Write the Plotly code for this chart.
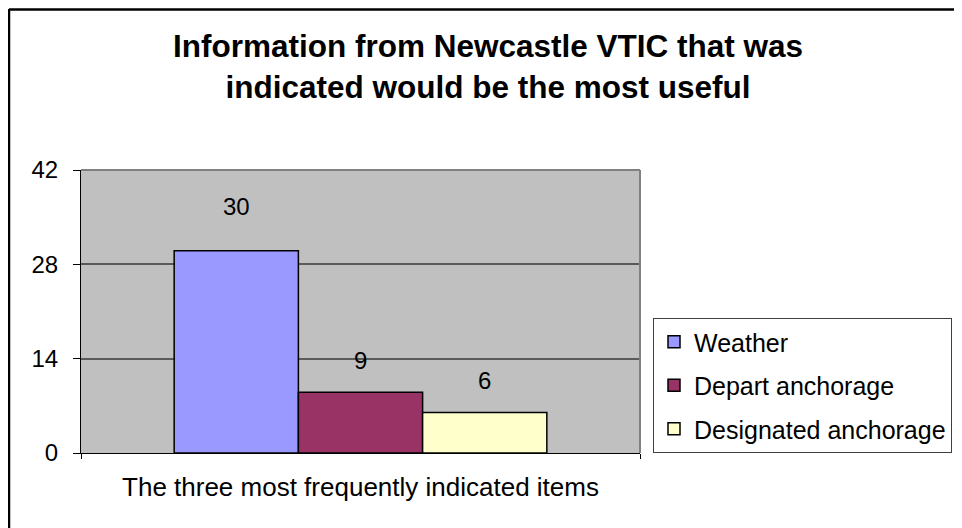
import plotly.graph_objects as go

# ---- data ----
category = ["The three most frequently indicated items"]
series_names = ["Weather", "Depart anchorage", "Designated anchorage"]
series_values = [30, 9, 6]
series_colors = ["#9999FF", "#993366", "#FFFFCC"]
y_ticks = [0, 14, 28, 42]
title_lines = ["Information from Newcastle VTIC that was",
               "indicated would be the most useful"]

FONT = "Liberation Sans, Arial, sans-serif"
OFF = 8                      # page body margin offset
W, H = 962 - OFF, 528 - OFF  # figure size (fills the window after offset)
# plot area in screen px: x 81..640, y 170..453
L = 81 - OFF
T = 170 - OFF
R = W - (640 - OFF)
B = H - (453 - OFF)
BARGAP = 1 / 3
label_shift = [44, 32, 32]

fig = go.Figure()
for name, val, col in zip(series_names, series_values, series_colors):
    fig.add_trace(go.Bar(
        x=category, y=[val], name=name,
        marker=dict(color=col, line=dict(color="black", width=1.5)),
        legendgroup=name,
        hoverinfo="skip",
    ))

# data labels above bars (positions derived from grouped bar layout)
n = len(series_values)
bw = (1 - BARGAP) / n
annotations = []
for i, val in enumerate(series_values):
    xc = -0.5 * (1 - BARGAP) + bw * (i + 0.5)
    annotations.append(dict(
        x=xc, y=val, xref="x", yref="y", text=str(val), showarrow=False,
        yanchor="middle", yshift=label_shift[i],
        font=dict(family=FONT, size=24, color="black"),
    ))

pw, ph = W - L - R, H - T - B
def sx(px):  # screen px -> paper x
    return (px - OFF - L) / pw
def sy(py):  # screen px -> paper y
    return (H - B - (py - OFF)) / ph

shapes = [
    # plot-area top and right borders (grey)
    dict(type="line", xref="paper", yref="paper", x0=0, x1=1, y0=1, y1=1,
         line=dict(color="#808080", width=2)),
    dict(type="line", xref="paper", yref="paper", x0=1, x1=1, y0=0, y1=1,
         line=dict(color="#808080", width=2)),
    # chart outer border (top & left visible)
    dict(type="line", xref="paper", yref="paper",
         x0=sx(9), x1=sx(970), y0=sy(9.5), y1=sy(9.5),
         line=dict(color="black", width=2.5)),
    dict(type="line", xref="paper", yref="paper",
         x0=sx(9), x1=sx(9), y0=sy(9), y1=sy(540),
         line=dict(color="black", width=2.5)),
]

fig.update_layout(
    width=W, height=H,
    margin=dict(l=L, r=R, t=T, b=B, pad=0, autoexpand=False),
    paper_bgcolor="white",
    plot_bgcolor="#C0C0C0",
    barmode="group",
    bargap=BARGAP,
    bargroupgap=0,
    title=dict(
        text="<br>".join(title_lines),
        font=dict(family=FONT, size=31.5, color="black", weight="bold"),
        x=(488 - OFF) / W, xanchor="center", xref="container",
        y=1 - 49 / H, yanchor="top", yref="container",
    ),
    showlegend=True,
    legend=dict(
        x=sx(653), xanchor="left",
        y=sy(318), yanchor="top",
        bordercolor="#404040", borderwidth=1, bgcolor="white",
        font=dict(family=FONT, size=25, color="black"),
        tracegroupgap=8,
        traceorder="grouped",
    ),
    annotations=annotations,
    shapes=shapes,
)

fig.update_xaxes(
    type="category",
    range=[-0.5, 0.5],
    showline=True, linecolor="black", linewidth=1,
    ticks="outside", ticklen=5, tickcolor="black", tickson="boundaries",
    tickfont=dict(family=FONT, size=26, color="black"),
    ticklabelstandoff=11,
    showgrid=False, zeroline=False, fixedrange=True,
)
fig.update_yaxes(
    range=[0, 42],
    tickvals=y_ticks, ticktext=[str(v) for v in y_ticks],
    showline=True, linecolor="black", linewidth=1,
    ticks="outside", ticklen=7, tickcolor="black",
    tickfont=dict(family=FONT, size=24, color="black"),
    ticklabelstandoff=10,
    showgrid=True, gridcolor="#5A5A5A", gridwidth=1.5,
    zeroline=False, fixedrange=True,
)

fig.write_html("out.html")
